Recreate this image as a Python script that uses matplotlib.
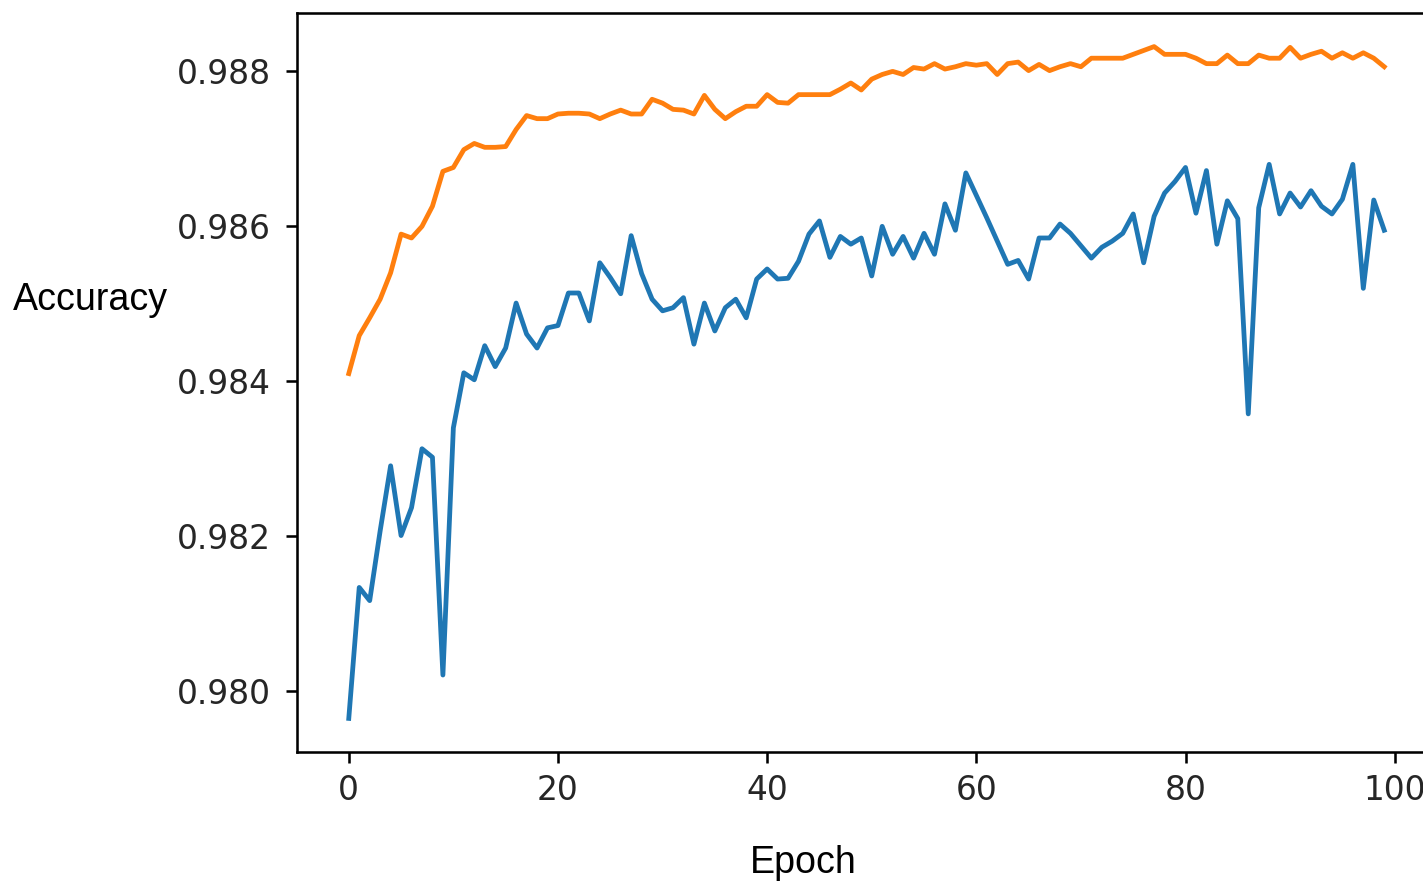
import matplotlib
matplotlib.use('Agg')
import matplotlib.pyplot as plt

# per-epoch accuracy
epochs = list(range(100))

val_acc = [
    0.97965, 0.98134, 0.98117, 0.98207, 0.98291, 0.98201, 0.98237, 0.98313, 0.98302, 0.98021,
    0.98340, 0.98411, 0.98402, 0.98446, 0.98419, 0.98443, 0.98501, 0.98461, 0.98443, 0.98469,
    0.98472, 0.98514, 0.98514, 0.98478, 0.98553, 0.98534, 0.98513, 0.98588, 0.98539, 0.98506,
    0.98491, 0.98495, 0.98508, 0.98448, 0.98501, 0.98465, 0.98495, 0.98506, 0.98482, 0.98532,
    0.98545, 0.98532, 0.98533, 0.98555, 0.98590, 0.98607, 0.98560, 0.98587, 0.98577, 0.98585,
    0.98536, 0.98600, 0.98564, 0.98587, 0.98559, 0.98591, 0.98564, 0.98629, 0.98595, 0.98669,
    0.98640, 0.98611, 0.98581, 0.98551, 0.98556, 0.98532, 0.98585, 0.98585, 0.98603, 0.98591,
    0.98575, 0.98559, 0.98573, 0.98581, 0.98591, 0.98616, 0.98553, 0.98613, 0.98643, 0.98658,
    0.98676, 0.98617, 0.98672, 0.98577, 0.98633, 0.98610, 0.98358, 0.98624, 0.98680, 0.98616,
    0.98643, 0.98625, 0.98646, 0.98626, 0.98616, 0.98635, 0.98680, 0.98520, 0.98634, 0.98595,
]

train_acc = [
    0.98410, 0.98459, 0.98482, 0.98506, 0.98540, 0.98590, 0.98585, 0.98600, 0.98626, 0.98671,
    0.98676, 0.98699, 0.98707, 0.98702, 0.98702, 0.98703, 0.98725, 0.98743, 0.98739, 0.98739,
    0.98745, 0.98746, 0.98746, 0.98745, 0.98739, 0.98745, 0.98750, 0.98745, 0.98745, 0.98764,
    0.98759, 0.98751, 0.98750, 0.98745, 0.98769, 0.98751, 0.98739, 0.98748, 0.98755, 0.98755,
    0.98770, 0.98760, 0.98759, 0.98770, 0.98770, 0.98770, 0.98770, 0.98777, 0.98785, 0.98776,
    0.98790, 0.98796, 0.98800, 0.98796, 0.98805, 0.98803, 0.98810, 0.98803, 0.98806, 0.98810,
    0.98808, 0.98810, 0.98796, 0.98810, 0.98812, 0.98801, 0.98809, 0.98801, 0.98806, 0.98810,
    0.98806, 0.98817, 0.98817, 0.98817, 0.98817, 0.98822, 0.98827, 0.98832, 0.98822, 0.98822,
    0.98822, 0.98817, 0.98810, 0.98810, 0.98821, 0.98810, 0.98810, 0.98821, 0.98817, 0.98817,
    0.98831, 0.98817, 0.98822, 0.98826, 0.98817, 0.98824, 0.98817, 0.98824, 0.98817, 0.98806,
]

dpi = 230
fig = plt.figure(figsize=(1423 / dpi, 885 / dpi), dpi=dpi)
# axes runs past the right edge, as in the cropped reference
ax = fig.add_axes([297 / 1423, 133 / 885, 1139 / 1423, 739 / 885])

ax.plot(epochs, val_acc)
ax.plot(epochs, train_acc)

ax.tick_params(labelcolor='#262626', labelsize=10.3)
ax.tick_params(axis='y', pad=4.6)

label_font = dict(family=['Liberation Sans', 'DejaVu Sans'], fontsize=11.8, color='black')
ax.set_ylabel('Accuracy', rotation=0, ha='left', va='baseline', **label_font)
ax.yaxis.set_label_coords(-0.2498, 0.598)
ax.set_xlabel('Epoch', ha='center', va='baseline', **label_font)
ax.xaxis.set_label_coords(0.4447, -0.1637)

fig.savefig('out.png', dpi=dpi)
